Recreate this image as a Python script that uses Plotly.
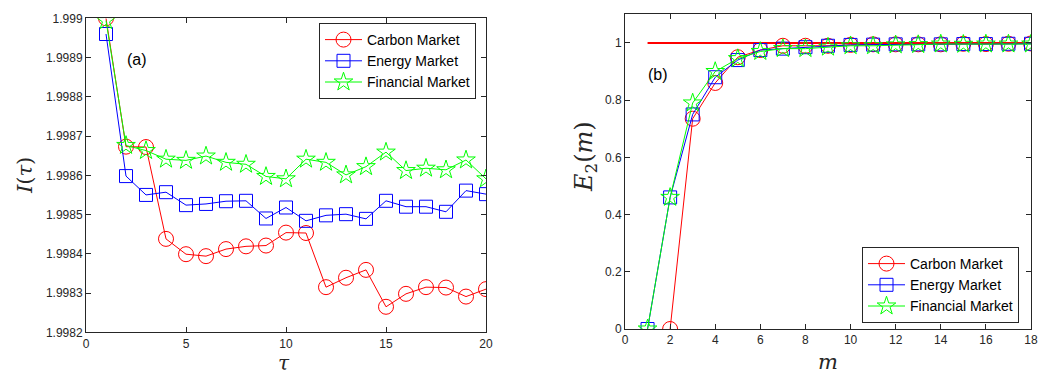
import plotly.graph_objects as go

# ---- panel (a): I(tau) against tau ----
tau = list(range(1, 21))
carbon_I = [1.99900, 1.998673, 1.998672, 1.998438, 1.998399, 1.998394, 1.998412, 1.998419,
            1.998421, 1.998454, 1.998453, 1.998315, 1.998339, 1.998359, 1.998265, 1.998298,
            1.998315, 1.998314, 1.998291, 1.998310]
energy_I = [1.998960, 1.998598, 1.998550, 1.998557, 1.998524, 1.998527, 1.998534, 1.998535,
            1.998490, 1.998518, 1.998484, 1.998498, 1.998501, 1.998489, 1.998535, 1.998520,
            1.998520, 1.998507, 1.998561, 1.998552]
financial_I = [1.998994, 1.998676, 1.998663, 1.998641, 1.998638, 1.998649, 1.998633, 1.998628,
               1.998597, 1.998591, 1.998641, 1.998633, 1.998601, 1.998622, 1.998659, 1.998612,
               1.998618, 1.998614, 1.998639, 1.998591]
a_yticks = [1.9982, 1.9983, 1.9984, 1.9985, 1.9986, 1.9987, 1.9988, 1.9989, 1.999]
a_yticklabels = ["1.9982", "1.9983", "1.9984", "1.9985", "1.9986", "1.9987", "1.9988", "1.9989", "1.999"]

# ---- panel (b): E2(m) against m ----
m_carbon = list(range(2, 19))
carbon_E = [0.0, 0.735, 0.86, 0.95, 0.975, 0.99, 0.99, 0.99, 0.993, 0.995, 0.995, 0.995,
            0.995, 0.997, 0.996, 0.997, 0.998]
m_all = list(range(1, 19))
energy_E = [0.0, 0.46, 0.75, 0.88, 0.94, 0.975, 0.98, 0.985, 0.99, 0.993, 0.994, 0.995,
            0.995, 0.995, 0.996, 0.996, 0.997, 0.997]
financial_E = [0.0, 0.46, 0.79, 0.90, 0.945, 0.97, 0.98, 0.98, 0.985, 0.99, 0.99, 0.993,
               0.994, 0.996, 0.995, 0.996, 0.996, 0.996]
ref_m = [1, 18]
ref_level = [1.0, 1.0]

names = ["Carbon Market", "Energy Market", "Financial Market"]
colors = ["#ff0000", "#0000ff", "#00ff00"]
symbols = ["circle-open", "square-open", "star-open"]
sizes = [15, 13, 14]

W, H = 1049, 374


def px_x(p):
    return p / W


def px_y(p):
    return (H - p) / H


fig = go.Figure()

for name, col, sym, sz, ys in zip(names, colors, symbols, sizes, [carbon_I, energy_I, financial_I]):
    fig.add_trace(go.Scatter(
        x=tau, y=ys, name=name, mode="lines+markers",
        line=dict(color=col, width=1),
        marker=dict(symbol=sym, size=sz, color=col, line=dict(width=1, color=col)),
        xaxis="x", yaxis="y", legend="legend"))

fig.add_trace(go.Scatter(
    x=ref_m, y=ref_level, mode="lines", line=dict(color="#ff0000", width=2),
    showlegend=False, xaxis="x2", yaxis="y2", hoverinfo="skip"))

for name, col, sym, sz, xs, ys in zip(names, colors, symbols, sizes,
                                      [m_carbon, m_all, m_all], [carbon_E, energy_E, financial_E]):
    fig.add_trace(go.Scatter(
        x=xs, y=ys, name=name, mode="lines+markers",
        line=dict(color=col, width=1),
        marker=dict(symbol=sym, size=sz, color=col, line=dict(width=1, color=col)),
        xaxis="x2", yaxis="y2", legend="legend2"))

axis_common = dict(showline=True, linecolor="#262626", linewidth=1, mirror="allticks",
                   ticks="inside", ticklen=5, tickcolor="#262626", showgrid=False,
                   zeroline=False, automargin=False,
                   tickfont=dict(family="Liberation Sans, Arial", size=12, color="#262626"))

legend_common = dict(bgcolor="white", bordercolor="#262626", borderwidth=1,
                     font=dict(family="Liberation Sans, Arial", size=14, color="black"),
                     itemwidth=37, tracegroupgap=0)

fig.update_layout(
    width=W, height=H,
    margin=dict(l=0, r=0, t=0, b=0, pad=0, autoexpand=False),
    paper_bgcolor="white", plot_bgcolor="white",
    xaxis=dict(domain=[px_x(86), px_x(486)], range=[0, 20], tickvals=[0, 5, 10, 15, 20],
               anchor="y", **axis_common),
    yaxis=dict(domain=[px_y(332.3), px_y(18.3)], range=[1.9982, 1.999],
               tickvals=a_yticks, ticktext=a_yticklabels, anchor="x", **axis_common),
    xaxis2=dict(domain=[px_x(625), px_x(1031)], range=[0, 18], tickvals=list(range(0, 19, 2)),
                anchor="y2", **axis_common),
    yaxis2=dict(domain=[px_y(329), px_y(14.3)], range=[0, 1.1],
                tickvals=[0, 0.2, 0.4, 0.6, 0.8, 1.0], ticktext=["0", "0.2", "0.4", "0.6", "0.8", "1"],
                anchor="x2", **axis_common),
    legend=dict(x=px_x(476), y=px_y(23), xanchor="right", yanchor="top", **legend_common),
    legend2=dict(x=px_x(1019), y=px_y(323), xanchor="right", yanchor="bottom", **legend_common),
    showlegend=True,
)


def label(x, y, text, font, angle=0):
    fig.add_annotation(x=px_x(x), y=px_y(y), xref="paper", yref="paper",
                       xanchor="center", yanchor="middle", text=text, textangle=angle,
                       showarrow=False, font=font, borderpad=0)


serif = "DejaVu Serif, Liberation Serif"
label(25, 176, "<i>I</i>(<i>τ</i>)", dict(family=serif, size=21, color="#262626"), -90)
label(284, 363, "<i>τ</i>", dict(family=serif, size=20, color="#262626"))
label(585, 157, "<i>E</i><sub>2</sub>(<i>m</i>)", dict(family=serif, size=24, color="#262626"), -90)
label(828, 362, "<i>m</i>", dict(family=serif, size=21, color="#262626"))

panel_font = dict(family="Liberation Sans, Arial", size=16, color="black")
label(137, 60, "(a)", panel_font)
label(658, 74, "(b)", panel_font)

fig.write_html("out.html")
